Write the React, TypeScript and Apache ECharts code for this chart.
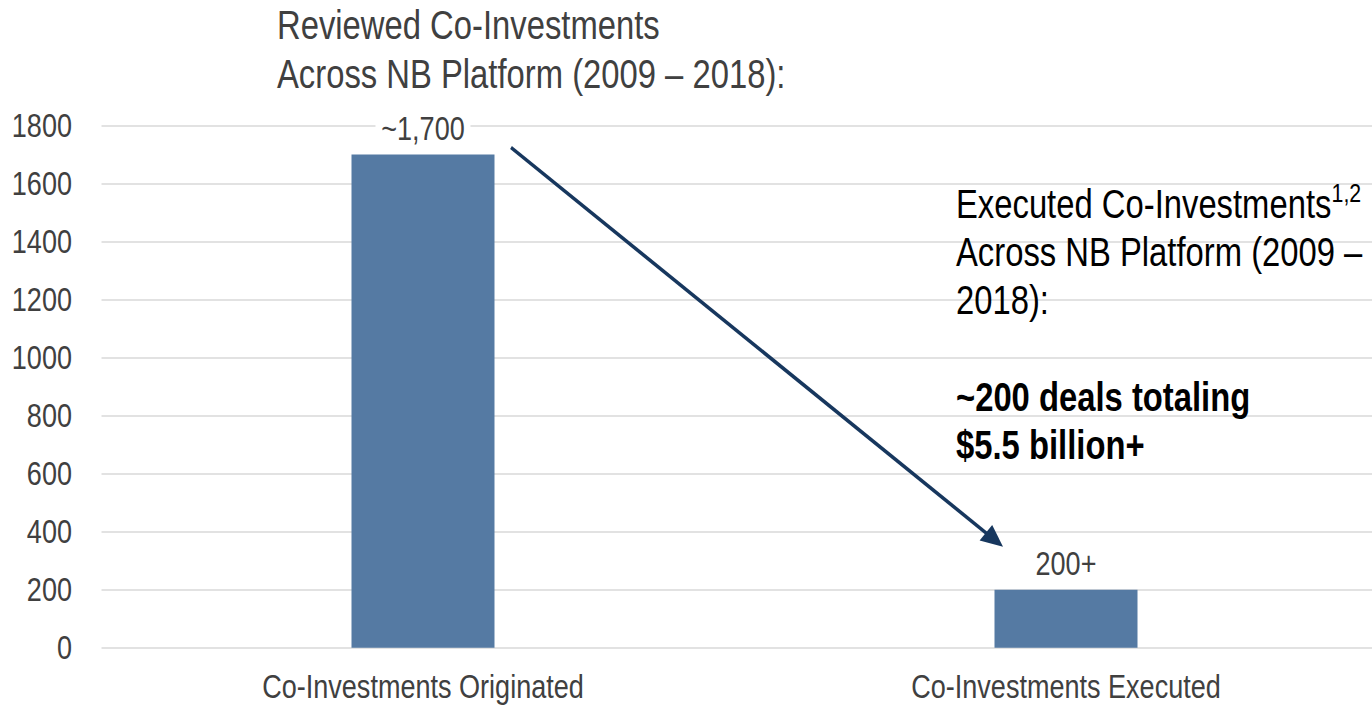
import React, { useEffect, useRef } from "react";
import * as echarts from "echarts";

const categories = ["Co-Investments Originated", "Co-Investments Executed"];
const values = [1700, 200];
const barLabels = ["~1,700", "200+"];
const yTicks = { min: 0, max: 1800, interval: 200 };

const FONT = "'Liberation Sans', Arial, sans-serif";
// horizontal condensing factor (emulates a narrow typeface)
const S = 0.82;
const W = 1695;
const H = 705;

export default function App() {
  const ref = useRef<HTMLDivElement>(null);
  useEffect(() => {
    if (!ref.current) return;
    const chart = echarts.init(ref.current, undefined, { renderer: "svg" });
    const sx = (x: number) => x / S;
    const option: any = {
      animation: false,
      textStyle: { fontFamily: FONT },
      grid: { left: sx(101.5), right: W - sx(1387.5), top: 125.5, bottom: 57.3, containLabel: false },
      xAxis: {
        type: "category",
        data: categories,
        axisLine: { show: false },
        axisTick: { show: false },
        axisLabel: { color: "#404040", fontSize: 33, fontFamily: FONT, margin: 22, interval: 0 },
      },
      yAxis: {
        type: "value",
        min: yTicks.min,
        max: yTicks.max,
        interval: yTicks.interval,
        axisLine: { show: false },
        axisTick: { show: false },
        axisLabel: {
          color: "#404040",
          fontSize: 33,
          fontFamily: FONT,
          margin: sx(29.5),
          formatter: (v: number) => String(v),
        },
        splitLine: { lineStyle: { color: "#d9d9d9", width: 1.5 } },
      },
      series: [
        {
          type: "bar",
          data: values,
          barWidth: sx(143),
          itemStyle: { color: "#557aa3" },
          label: {
            show: true,
            position: "top",
            distance: 10,
            fontSize: 33,
            fontFamily: FONT,
            color: "#404040",
            backgroundColor: "#ffffff",
            padding: [0, 7],
            formatter: (p: any) => barLabels[p.dataIndex],
          },
        },
      ],
    };
    chart.setOption(option);

    const p1 = chart.convertToPixel({ xAxisIndex: 0, yAxisIndex: 0 }, [0, values[0]]) as number[];
    const p2 = chart.convertToPixel({ xAxisIndex: 0, yAxisIndex: 0 }, [1, values[1]]) as number[];
    // work in screen space, then map x back to chart space
    const s1x = p1[0] * S + 88, s1y = p1[1] - 7;
    const e1x = p2[0] * S - 63, e1y = p2[1] - 43;
    const ang = Math.atan2(e1y - s1y, e1x - s1x);
    const hl = 22, hw = 10;
    const bx = e1x - hl * Math.cos(ang), by = e1y - hl * Math.sin(ang);
    const nx = -Math.sin(ang), ny = Math.cos(ang);
    const arrowColor = "#17375e";

    chart.setOption({
      graphic: [
        {
          type: "line",
          shape: {
            x1: sx(s1x),
            y1: s1y,
            x2: sx(bx + 3 * Math.cos(ang)),
            y2: by + 3 * Math.sin(ang),
          },
          style: { stroke: arrowColor, lineWidth: 3.8 },
        },
        {
          type: "polygon",
          shape: {
            points: [
              [sx(e1x), e1y],
              [sx(bx + nx * hw), by + ny * hw],
              [sx(bx - nx * hw), by - ny * hw],
            ],
          },
          style: { fill: arrowColor },
        },
        {
          type: "text",
          left: sx(277),
          top: 1,
          style: {
            text: "Reviewed Co-Investments\nAcross NB Platform (2009 – 2018):",
            fontSize: 40,
            lineHeight: 49,
            fontFamily: FONT,
            fill: "#404040",
          },
        },
        {
          type: "text",
          left: sx(956),
          top: 180,
          style: {
            text: "Executed Co-Investments{sup|1,2}\nAcross NB Platform (2009 –\n2018):",
            fontSize: 40,
            lineHeight: 48,
            fontFamily: FONT,
            fill: "#000000",
            rich: {
              sup: { fontSize: 26, verticalAlign: "top", lineHeight: 26, fontFamily: FONT, fill: "#000000" },
            },
          },
        },
        {
          type: "text",
          left: sx(956),
          top: 373,
          style: {
            text: "~200 deals totaling\n$5.5 billion+",
            fontSize: 40,
            fontWeight: "bold",
            lineHeight: 48,
            fontFamily: FONT,
            fill: "#000000",
          },
        },
      ],
    });

    return () => chart.dispose();
  }, []);
  return (
    <div
      style={{
        position: "fixed",
        left: 0,
        top: 0,
        width: 1372,
        height: H,
        overflow: "hidden",
        background: "#fff",
      }}
    >
      <div
        ref={ref}
        style={{
          width: W,
          height: H,
          transform: `scaleX(${S})`,
          transformOrigin: "0 0",
        }}
      />
    </div>
  );
}
